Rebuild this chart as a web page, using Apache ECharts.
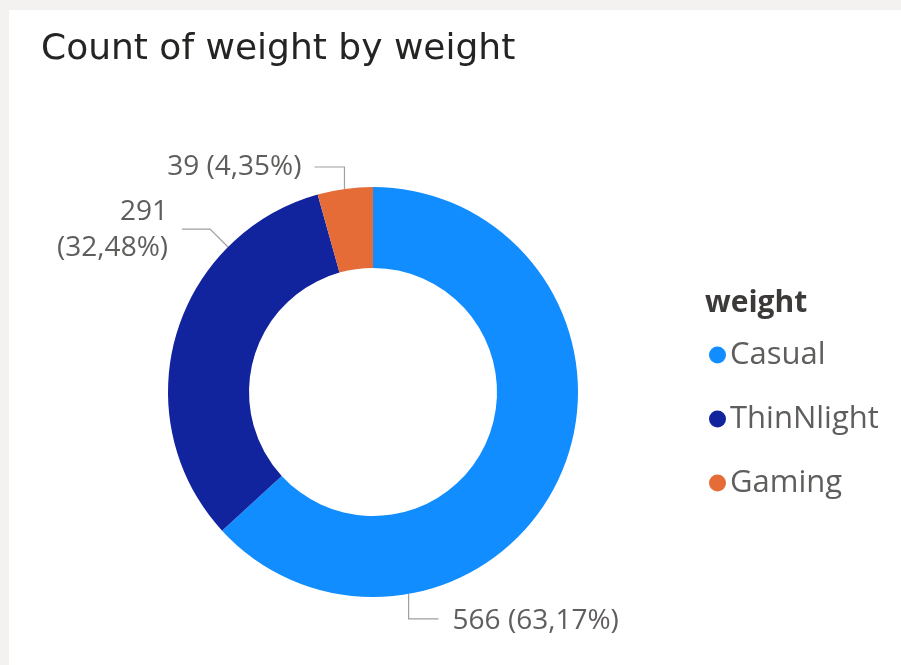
<!DOCTYPE html>
<html>
<head>
<meta charset="utf-8">
<script src="https://cdn.jsdelivr.net/npm/echarts@6/dist/echarts.min.js"></script>
<style>
  html, body { margin: 0; padding: 0; background: #f3f2f0; }
  #chart { position: absolute; left: 9px; top: 10px; width: 892px; height: 655px; background: #ffffff; }
</style>
</head>
<body>
<div id="chart"></div>
<script>
// Counts per weight class
const categories = ['Casual', 'ThinNlight', 'Gaming'];
const counts = [566, 291, 39];
const colors = ['#118DFF', '#12239E', '#E66C37'];

// Donut geometry (px, inside the chart box)
const CX = 364, CY = 382, R_OUT = 205, R_IN = 124;

// Where each label line leaves the ring (degrees clockwise from 12 o'clock),
// the two elbow legs that follow it, and the text offset from the elbow end.
const labelAnchors = [
  { angle: 170, leg1: [0, 25], leg2: [30, 0], gap: 14, dy: 2, side: 'right' },
  { angle: 315, leg1: [-18, -18], leg2: [-28, 0], gap: -14, dy: 1, side: 'left' },
  { angle: 352, leg1: [0, -22], leg2: [-30, 0], gap: -13, dy: 0, side: 'left' }
];

const pct = p => p.toFixed(2).replace('.', ',') + '%';

const chart = echarts.init(document.getElementById('chart'));
chart.setOption({
  animation: false,
  title: [
    {
      text: 'Count of weight by weight',
      left: 32, top: 22, padding: 0,
      textStyle: { fontFamily: 'DejaVu Sans, sans-serif', fontSize: 36, fontWeight: 'normal', color: '#252423' }
    },
    {
      text: 'weight',
      left: 696, top: 278, padding: 0,
      textStyle: { fontFamily: 'Open Sans, sans-serif', fontSize: 30, fontWeight: 'bold', color: '#3b3a39' }
    }
  ],
  legend: {
    orient: 'vertical',
    left: 700, top: 329,
    padding: 0,
    itemGap: 32,
    icon: 'circle',
    itemWidth: 17, itemHeight: 17,
    itemStyle: { borderWidth: 0 },
    textStyle: { fontFamily: 'Open Sans, sans-serif', fontSize: 31, lineHeight: 32, color: '#605e5c', padding: [0, 0, 0, -1] },
    data: categories
  },
  series: [{
    type: 'pie',
    center: [CX, CY],
    radius: [R_IN, R_OUT],
    startAngle: 90,
    clockwise: true,
    avoidLabelOverlap: false,
    itemStyle: { borderWidth: 0 },
    emphasis: { disabled: true },
    data: categories.map((name, i) => ({ name, value: counts[i], itemStyle: { color: colors[i] } })),
    label: {
      show: true,
      fontFamily: 'Open Sans, sans-serif',
      fontSize: 28,
      color: '#605e5c',
      lineHeight: 36,
      formatter: p => p.dataIndex === 1
        ? p.value + '\n(' + pct(p.percent) + ')'
        : p.value + ' (' + pct(p.percent) + ')'
    },
    labelLine: { show: true, lineStyle: { color: '#a19f9d', width: 1.2 } },
    labelLayout: params => {
      const a = labelAnchors[params.dataIndex];
      const rad = a.angle * Math.PI / 180;
      const p0 = [CX + R_OUT * Math.sin(rad), CY - R_OUT * Math.cos(rad)];
      const p1 = [p0[0] + a.leg1[0], p0[1] + a.leg1[1]];
      const p2 = [p1[0] + a.leg2[0], p1[1] + a.leg2[1]];
      return {
        x: p2[0] + a.gap,
        y: p2[1] + a.dy,
        align: a.side === 'right' ? 'left' : 'right',
        verticalAlign: 'middle',
        labelLinePoints: [p0, p1, p2]
      };
    }
  }]
});
</script>
</body>
</html>
